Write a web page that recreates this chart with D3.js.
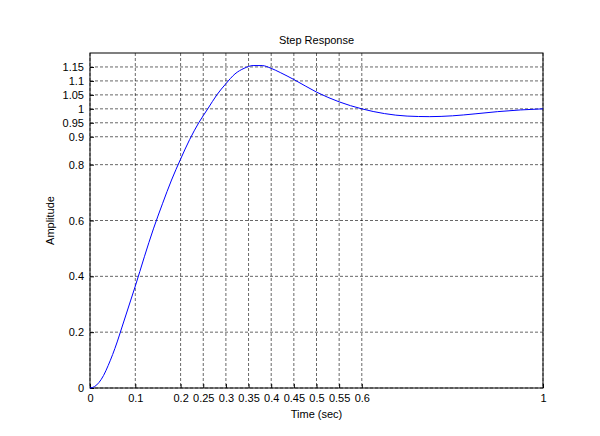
<!DOCTYPE html>
<html><head><meta charset="utf-8">
<script src="https://cdn.jsdelivr.net/npm/d3@7/dist/d3.min.js"></script>
<style>body{margin:0;background:#fff}svg{display:block}text{font-family:"Liberation Sans",Arial,sans-serif;font-size:11px}</style>
</head><body><svg width="600" height="436"></svg>
<script>
const tVals=[0,0.01,0.02,0.03,0.04,0.05,0.06,0.07,0.08,0.09,0.1,0.12,0.14,0.16,0.18,0.2,0.22,0.24,0.26,0.28,0.3,0.32,0.34,0.36,0.38,0.4,0.42,0.45,0.5,0.55,0.6,0.65,0.7,0.75,0.8,0.85,0.9,0.95,1.0];
const yVals=[0,0.005,0.02,0.045,0.08,0.12,0.165,0.215,0.265,0.315,0.365,0.47,0.57,0.66,0.745,0.82,0.89,0.95,1.0,1.05,1.09,1.125,1.145,1.155,1.155,1.145,1.13,1.105,1.06,1.025,1.0,0.983,0.974,0.972,0.975,0.982,0.99,0.996,1.0];
const xTicks=[0,0.1,0.2,0.25,0.3,0.35,0.4,0.45,0.5,0.55,0.6,1];
const yTicks=[0,0.2,0.4,0.6,0.8,0.9,0.95,1,1.05,1.1,1.15];
const svg=d3.select("svg");
const L=90,R=543,T=53,B=388;
const x=d3.scaleLinear().domain([0,1]).range([L,R]);
const y=d3.scaleLinear().domain([0,1.2]).range([B,T]);
const g=svg.append("g");
xTicks.forEach(v=>g.append("line").attr("x1",x(v)).attr("x2",x(v)).attr("y1",T).attr("y2",B).attr("stroke","#000").attr("stroke-dasharray","3,2").attr("stroke-width",0.6));
yTicks.forEach(v=>g.append("line").attr("x1",L).attr("x2",R).attr("y1",y(v)).attr("y2",y(v)).attr("stroke","#000").attr("stroke-dasharray","3,2").attr("stroke-width",0.6));
const fmt=v=>String(v);
svg.append("g").attr("transform",`translate(0,${B})`).call(d3.axisBottom(x).tickValues(xTicks).tickFormat(fmt).tickSizeInner(-4).tickSizeOuter(0).tickPadding(6)).call(a=>a.select(".domain").remove());
svg.append("g").attr("transform",`translate(${L},0)`).call(d3.axisLeft(y).tickValues(yTicks).tickFormat(fmt).tickSizeInner(-4).tickSizeOuter(0).tickPadding(6)).call(a=>a.select(".domain").remove());
svg.selectAll(".tick text").attr("fill","#000").style("font-size","11px");
svg.append("rect").attr("x",L).attr("y",T).attr("width",R-L).attr("height",B-T).attr("fill","none").attr("stroke","#000");
const line=d3.line().x((d,i)=>x(tVals[i])).y(d=>y(d)).curve(d3.curveMonotoneX);
svg.append("path").datum(yVals).attr("d",line).attr("fill","none").attr("stroke","#0000ff").attr("stroke-width",1);
svg.append("text").attr("x",(L+R)/2).attr("y",44).attr("text-anchor","middle").text("Step Response");
svg.append("text").attr("x",(L+R)/2).attr("y",418).attr("text-anchor","middle").text("Time (sec)");
svg.append("text").attr("transform",`translate(54,${(T+B)/2}) rotate(-90)`).attr("text-anchor","middle").text("Amplitude");
</script></body></html>
